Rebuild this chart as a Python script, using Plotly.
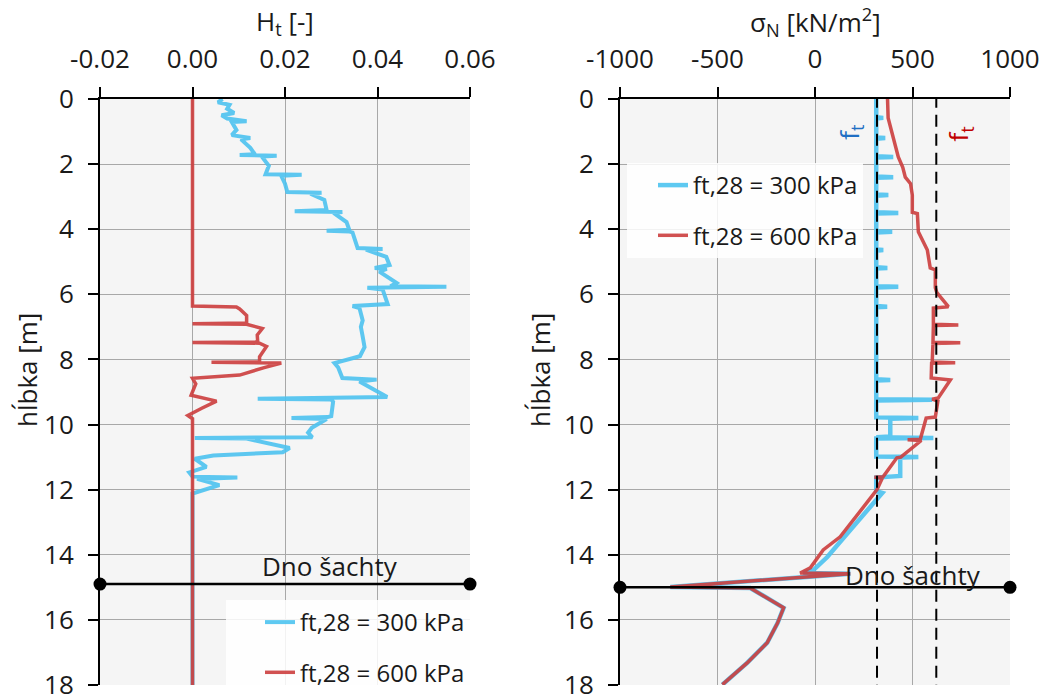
import plotly.graph_objects as go

# ---------------- data ----------------
# Left panel: H_t [-] vs depth [m]
ht300_depth = [0.00, 0.10, 0.18, 0.30, 0.43, 0.50, 0.60, 0.68, 0.71, 0.95, 1.11, 1.20, 1.24, 1.50, 1.70, 1.72, 1.74, 1.77,
               2.05, 2.31, 2.33, 2.36, 2.60, 2.86, 2.88, 2.91, 3.10, 3.41, 3.45, 3.47, 3.50, 3.78, 4.02, 4.05, 4.07, 4.10,
               4.58, 4.61, 4.63, 4.85, 5.10, 5.19, 5.22, 5.30, 5.65, 5.75, 5.77, 5.80, 5.85, 6.30, 6.36, 6.42, 6.80, 7.00,
               7.30, 7.62, 7.90, 8.02, 8.11, 8.25, 8.57, 8.62, 8.68, 9.15, 9.21, 9.23, 9.30, 9.74, 9.77, 9.80, 9.83, 10.10,
               10.25, 10.39, 10.41, 10.43, 10.72, 10.85, 10.95, 11.05, 11.30, 11.47, 11.60, 11.63, 11.67, 11.86, 12.12, 18.00]
ht300 = [0.0065, 0.0055, 0.0080, 0.0075, 0.0090, 0.0063, 0.0075, 0.0117, 0.0085, 0.0095, 0.0085, 0.0125, 0.0105, 0.0125,
         0.0135, 0.0102, 0.0182, 0.0150, 0.0165, 0.0158, 0.0236, 0.0192, 0.0200, 0.0205, 0.0279, 0.0255, 0.0285, 0.0290,
         0.0221, 0.0324, 0.0305, 0.0333, 0.0339, 0.0290, 0.0340, 0.0346, 0.0357, 0.0411, 0.0375, 0.0419, 0.0426, 0.0394,
         0.0420, 0.0404, 0.0441, 0.0428, 0.0549, 0.0378, 0.0411, 0.0422, 0.0346, 0.0361, 0.0368, 0.0364, 0.0368, 0.0372,
         0.0362, 0.0330, 0.0307, 0.0315, 0.0324, 0.0398, 0.0361, 0.0421, 0.0141, 0.0300, 0.0304, 0.0300, 0.0292, 0.0214,
         0.0290, 0.0258, 0.0250, 0.0259, 0.0005, 0.0117, 0.0210, 0.0195, 0.0045, 0.0005, 0.0030, -0.0007, 0.0000, 0.0097,
         0.0010, 0.0058, 0.0000, 0.0000]

ht600_depth = [0.00, 6.36, 6.39, 6.45, 6.65, 6.88, 6.90, 6.92, 7.05, 7.25, 7.46, 7.48, 7.50, 7.60, 7.92, 8.08, 8.09, 8.11,
               8.25, 8.48, 8.58, 8.75, 9.10, 9.28, 9.50, 9.72, 9.82, 18.00]
ht600 = [0.0, 0.0, 0.0095, 0.0102, 0.0117, 0.0117, 0.0, 0.0117, 0.0151, 0.0140, 0.0141, 0.0, 0.0145, 0.0160, 0.0145,
         0.0145, 0.0041, 0.0192, 0.0155, 0.0102, 0.0, 0.0007, -0.0003, 0.0052, 0.0020, -0.0010, 0.0, 0.0]

# Right panel: sigma_N [kN/m2] vs depth [m]
sn300_depth = [0.00, 0.56, 0.58, 0.60, 1.18, 1.20, 1.22, 1.76, 1.78, 1.80, 2.38, 2.40, 2.42, 2.93, 2.95, 2.97, 3.48, 3.50,
               3.52, 4.06, 4.08, 4.10, 4.62, 4.64, 4.66, 5.17, 5.19, 5.21, 5.75, 5.77, 5.79, 6.36, 6.38, 6.40, 8.61, 8.63,
               8.65, 9.22, 9.24, 9.26, 9.78, 9.80, 9.82, 10.37, 10.39, 10.41, 10.43, 10.98, 11.00, 11.02, 11.58, 11.60,
               11.63, 12.05, 12.10, 13.24, 14.07, 14.47, 14.56, 14.58, 14.99, 15.02, 15.63, 16.10, 16.70, 17.32, 17.99]
sn300 = [314, 314, 350, 314, 314, 360, 314, 314, 401, 314, 314, 401, 314, 314, 376, 314, 314, 427, 314, 314, 396, 314,
         314, 350, 314, 314, 371, 314, 314, 427, 314, 314, 370, 314, 314, 386, 314, 314, 601, 314, 314, 530, 386, 386,
         314, 607, 314, 314, 530, 437, 437, 345, 314, 314, 345, 181, 63, -8, -60, 181, -742, -332, -161, -192, -245,
         -348, -475]

sn600_depth = [0.00, 0.58, 1.78, 2.10, 2.40, 2.60, 2.95, 3.48, 3.52, 4.08, 4.64, 5.19, 5.25, 5.80, 5.95, 6.38, 6.42, 6.92,
               6.94, 6.96, 7.47, 7.49, 7.51, 8.08, 8.10, 8.12, 8.57, 8.63, 9.18, 9.22, 9.28, 9.77, 9.80, 10.45, 10.47,
               10.49, 11.00, 11.02, 11.60, 11.62, 11.65, 12.00, 13.45, 13.85, 14.40, 14.56, 14.58, 14.99, 15.02, 15.63,
               16.10, 16.70, 17.32, 17.99]
sn600 = [372, 375, 427, 450, 463, 490, 499, 499, 525, 530, 576, 591, 617, 617, 625, 684, 607, 607, 735, 607, 605, 745,
         605, 601, 719, 598, 596, 694, 632, 601, 630, 617, 570, 540, 475, 545, 440, 420, 350, 305, 345, 318, 129, 42,
         -24, -76, 181, -742, -332, -161, -192, -245, -348, -475]

ft_limits = [318, 622]          # dashed f_t lines (kN/m2)
dno_depth_left = 14.9
dno_depth_right = 15.0

ht_ticks = [-0.02, 0.00, 0.02, 0.04, 0.06]
ht_ticktext = ["-0.02", "0.00", "0.02", "0.04", "0.06"]
sn_ticks = [-1000, -500, 0, 500, 1000]
sn_ticktext = ["-1000", "-500", "0", "500", "1000"]
depth_ticks = [0, 2, 4, 6, 8, 10, 12, 14, 16, 18]

series_names = ["ft,28 = 300 kPa", "ft,28 = 600 kPa"]
BLUE = "rgb(77,195,240)"
RED = "rgb(204,62,62)"
FONT = "Open Sans"
W, H = 1050, 696
OFF = 8   # default page margin of the browser body


def px_x(p):
    return (p - OFF) / W


def px_y(p):
    return 1 - (p - OFF) / H


fig = go.Figure()

# left panel
fig.add_trace(go.Scatter(x=ht300, y=ht300_depth, mode="lines", name=series_names[0],
                         line=dict(color=BLUE, width=4), opacity=0.9, xaxis="x", yaxis="y",
                         legend="legend", legendgroup="a"))
fig.add_trace(go.Scatter(x=ht600, y=ht600_depth, mode="lines", name=series_names[1],
                         line=dict(color=RED, width=3.5), opacity=0.9, xaxis="x", yaxis="y",
                         legend="legend", legendgroup="b"))
fig.add_trace(go.Scatter(x=[ht_ticks[0], ht_ticks[-1]], y=[dno_depth_left] * 2, mode="lines+markers",
                         line=dict(color="black", width=2.5), marker=dict(size=13, color="black"),
                         cliponaxis=False, showlegend=False, xaxis="x", yaxis="y"))

# right panel
fig.add_trace(go.Scatter(x=sn300, y=sn300_depth, mode="lines", name=series_names[0],
                         line=dict(color=BLUE, width=4.5), opacity=0.9, xaxis="x2", yaxis="y2",
                         legend="legend2", legendgroup="a"))
fig.add_trace(go.Scatter(x=sn600, y=sn600_depth, mode="lines", name=series_names[1],
                         line=dict(color=RED, width=3.5), opacity=0.9, xaxis="x2", yaxis="y2",
                         legend="legend2", legendgroup="b"))
for v in ft_limits:
    fig.add_trace(go.Scatter(x=[v, v], y=[-0.1, depth_ticks[-1] + 0.15], mode="lines",
                             line=dict(color="black", width=2, dash="12px,7px"), cliponaxis=False,
                             showlegend=False, xaxis="x2", yaxis="y2"))
fig.add_trace(go.Scatter(x=[sn_ticks[0], sn_ticks[-1]], y=[dno_depth_right] * 2, mode="lines+markers",
                         line=dict(color="black", width=2.5), marker=dict(size=13, color="black"),
                         cliponaxis=False, showlegend=False, xaxis="x2", yaxis="y2"))

ydom = [px_y(685), px_y(99)]
axis_common = dict(showgrid=True, gridcolor="#a8a8a8", gridwidth=1.3, zeroline=False, automargin=False,
                   showline=True, linecolor="black", linewidth=2, ticks="outside", ticklen=10,
                   tickwidth=2, tickcolor="black", ticklabelstandoff=9,
                   tickfont=dict(family=FONT, size=26, color="#1a1a1a"))

fig.update_layout(
    width=W, height=H, margin=dict(l=0, r=0, t=0, b=0, autoexpand=False),
    paper_bgcolor="white", plot_bgcolor="#f5f5f5",
    font=dict(family=FONT, size=26, color="#1a1a1a"),
    xaxis=dict(domain=[px_x(100), px_x(470)], anchor="y", side="top", range=[ht_ticks[0], ht_ticks[-1]],
               tickvals=ht_ticks, ticktext=ht_ticktext, **axis_common),
    yaxis=dict(domain=ydom, anchor="x", range=[depth_ticks[-1], depth_ticks[0]], tickvals=depth_ticks,
               **axis_common),
    xaxis2=dict(domain=[px_x(620), px_x(1010)], anchor="y2", side="top", range=[sn_ticks[0], sn_ticks[-1]],
                tickvals=sn_ticks, ticktext=sn_ticktext, **axis_common),
    yaxis2=dict(domain=ydom, anchor="x2", range=[depth_ticks[-1], depth_ticks[0]], tickvals=depth_ticks,
                **axis_common),
    legend=dict(x=px_x(226), y=px_y(600), xanchor="left", yanchor="top", bgcolor="rgba(255,255,255,0.85)",
                font=dict(family=FONT, size=24, color="#1a1a1a"), tracegroupgap=16, traceorder="grouped",
                indentation=34),
    legend2=dict(x=px_x(627), y=px_y(163), xanchor="left", yanchor="top", bgcolor="rgba(255,255,255,0.85)",
                 font=dict(family=FONT, size=24, color="#1a1a1a"), tracegroupgap=16, traceorder="grouped",
                 indentation=26),
)

ann = [
    dict(text="H<sub>t</sub> [-]", x=px_x(285), y=px_y(22), xref="paper", yref="paper", showarrow=False,
         xanchor="center", yanchor="middle", font=dict(size=26)),
    dict(text="σ<sub>N</sub> [kN/m<sup>2</sup>]", x=px_x(815), y=px_y(22), xref="paper", yref="paper",
         xanchor="center", yanchor="middle", showarrow=False, font=dict(size=26)),
    dict(text="hĺbka [m]", x=px_x(27), y=px_y(370), xref="paper", yref="paper", showarrow=False,
         xanchor="center", yanchor="middle", textangle=-90, font=dict(size=26)),
    dict(text="hĺbka [m]", x=px_x(540), y=px_y(370), xref="paper", yref="paper", showarrow=False,
         xanchor="center", yanchor="middle", textangle=-90, font=dict(size=26)),
    dict(text="Dno šachty", x=0.0298, y=14.35, xref="x", yref="y", showarrow=False, font=dict(size=26)),
    dict(text="Dno šachty", x=505, y=14.62, xref="x2", yref="y2", showarrow=False, font=dict(size=26)),
    dict(text="f<sub>t</sub>", x=175, y=1.0, xref="x2", yref="y2", showarrow=False, textangle=-90,
         font=dict(size=26, color="#1f6fc4")),
    dict(text="f<sub>t</sub>", x=740, y=1.05, xref="x2", yref="y2", showarrow=False, textangle=-90,
         font=dict(size=26, color="#c00000")),
]
fig.update_layout(annotations=ann)

fig.write_html("out.html")
